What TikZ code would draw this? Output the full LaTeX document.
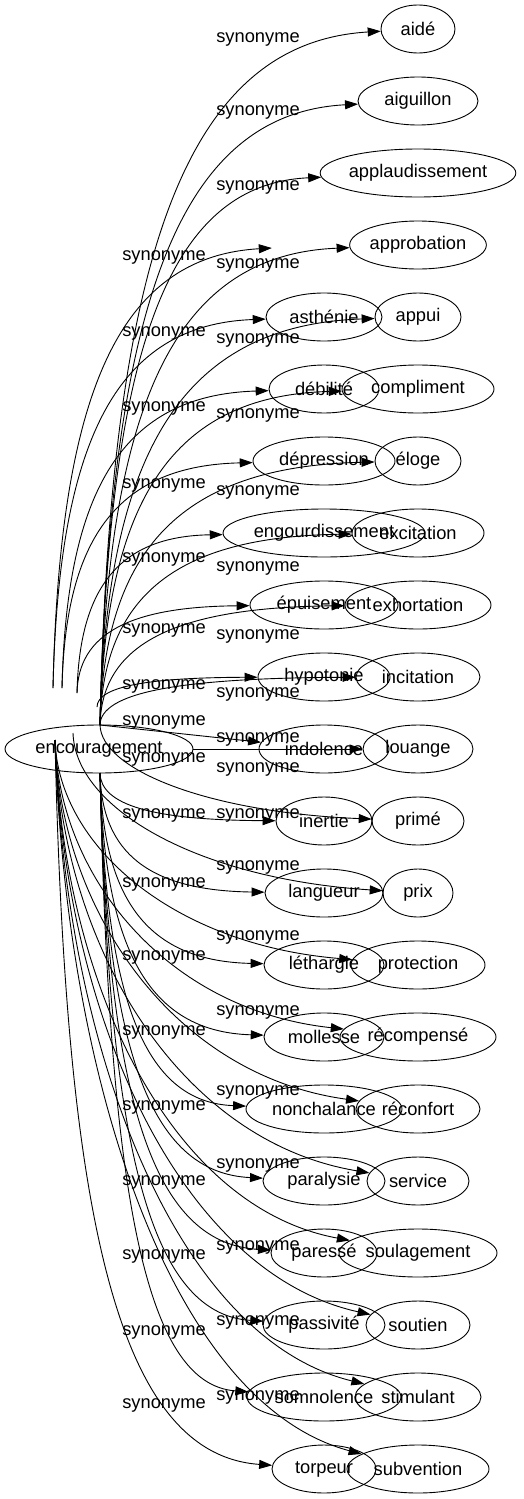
\documentclass[tikz,border=0pt]{standalone}
\usepackage{fontspec}
\setmainfont{Liberation Sans}
\usetikzlibrary{shapes.geometric,arrows.meta,calc}
\tikzset{
  ell/.style={ellipse, draw, line width=0.9pt, inner sep=0pt, minimum height=48pt, font=\fontsize{18.3}{20}\selectfont},
  lab/.style={inner sep=0pt, anchor=base, font=\fontsize{18.3}{20}\selectfont},
  edge/.style={line width=0.9pt, -{Triangle[length=13pt,width=9pt]}},
}
\newcommand\syn[5]{\draw[edge] let \p1=(#1), \p2=(#2.west) in (#1) .. controls ({\x1+0.015*abs(\y2-\y1)},{\y2+#3*(\y1-\y2)}) and ({\x1+#4*(\x2-\x1)},{\y2+#5*(\y1-\y2)}) .. (#2);}
\begin{document}
\begin{tikzpicture}[x=1pt,y=-1pt]
\useasboundingbox (0,0) rectangle (523,1499);
% centre node
\node[ell, minimum width=188pt] (enc) at (99,749) {encouragement};
% right column
\foreach \n/\t/\y/\w in {r1/aidé/29/74, r2/aiguillon/101/120, r3/applaudissement/173/190, r4/approbation/245/132, r5/appui/317/86, r6/compliment/389/152, r7/éloge/461/86, r8/excitation/533/132, r9/exhortation/605/146, r10/incitation/677/124, r11/louange/749/110, r12/primé/821/92, r13/prix/893/70, r14/protection/965/134, r15/récompensé/1037/156, r16/réconfort/1109/124, r17/service/1181/102, r18/soulagement/1253/158, r19/soutien/1325/104, r20/stimulant/1397/126, r21/subvention/1469/142}
  {\node[ell, minimum width=\w pt] (\n) at (418,\y) {\t};}
% left column
\foreach \n/\t/\y/\w in {l4/asthénie/317/116, l5/débilité/389/110, l6/dépression/461/142, l7/engourdissement/533/202, l8/épuisement/605/148, l9/hypotonie/677/132, l10/indolence/749/130, l11/inertie/821/96, l12/langueur/893/118, l13/léthargie/965/120, l14/mollesse/1037/120, l15/nonchalance/1109/156, l16/paralysie/1181/122, l17/paressé/1253/106, l18/passivité/1325/122, l19/somnolence/1397/154, l20/torpeur/1469/104}
  {\node[ell, minimum width=\w pt] (\n) at (324,\y) {\t};}
\node[inner sep=0pt, minimum size=0pt] (ph) at (272,248) {};
% start points
\coordinate (sA) at (100,725);
\coordinate (sB1) at (53,688);
\coordinate (sB2) at (62,688);
\coordinate (sB3) at (77,693);
\coordinate (sB4) at (97,707);
\coordinate (sC) at (100,773);
\coordinate (sD) at (55,740);
\coordinate (sD2) at (73,733);
\coordinate (sE) at (193,749);
% labels
\foreach \y [count=\i] in {37,110,185,263,338,413,490,566,634,692,737,767,813,865,935,1010,1090,1163,1245,1320,1395}
  {\node[lab] (la\i) at (258,\y+5.5) {synonyme};}
\foreach \y [count=\i] in {255,331,406,483,557,628,684,720,757,813,882,955,1030,1105,1180,1254,1330,1403}
  {\node[lab] (lb\i) at (164,\y+5.5) {synonyme};}
% edges: upper right
\foreach \t in {r1,r2,r3,r4,r5,r6,r7,r8,r9,r10} {\syn{sA}{\t}{0.33}{0.3}{0.02}}
% upper left
\syn{sB1}{ph}{0.33}{0.3}{0.02}
\syn{sB1}{l4}{0.33}{0.3}{0.02}
\syn{sB2}{l5}{0.33}{0.3}{0.02}
\syn{sB2}{l6}{0.33}{0.3}{0.02}
\syn{sB3}{l7}{0.33}{0.3}{0.02}
\syn{sB3}{l8}{0.33}{0.3}{0.02}
\syn{sB4}{l9}{0.33}{0.3}{0.02}
% middle
\draw[edge] (sA) -- (l10);
\draw[edge] (sE) -- (r11);
% lower left
\foreach \t in {l11,l12,l13,l14,l15,l16,l17,l18,l19} {\syn{sC}{\t}{0.33}{0.3}{0.02}}
\syn{sD}{l20}{0.33}{0.3}{0.02}
% lower right
\syn{sA}{r12}{0.53}{0.4}{0.09}
\syn{sD2}{r13}{0.53}{0.4}{0.09}
\foreach \t in {r14,r15,r16,r17,r18,r19,r20,r21} {\syn{sD}{\t}{0.53}{0.4}{0.09}}
\end{tikzpicture}
\end{document}
